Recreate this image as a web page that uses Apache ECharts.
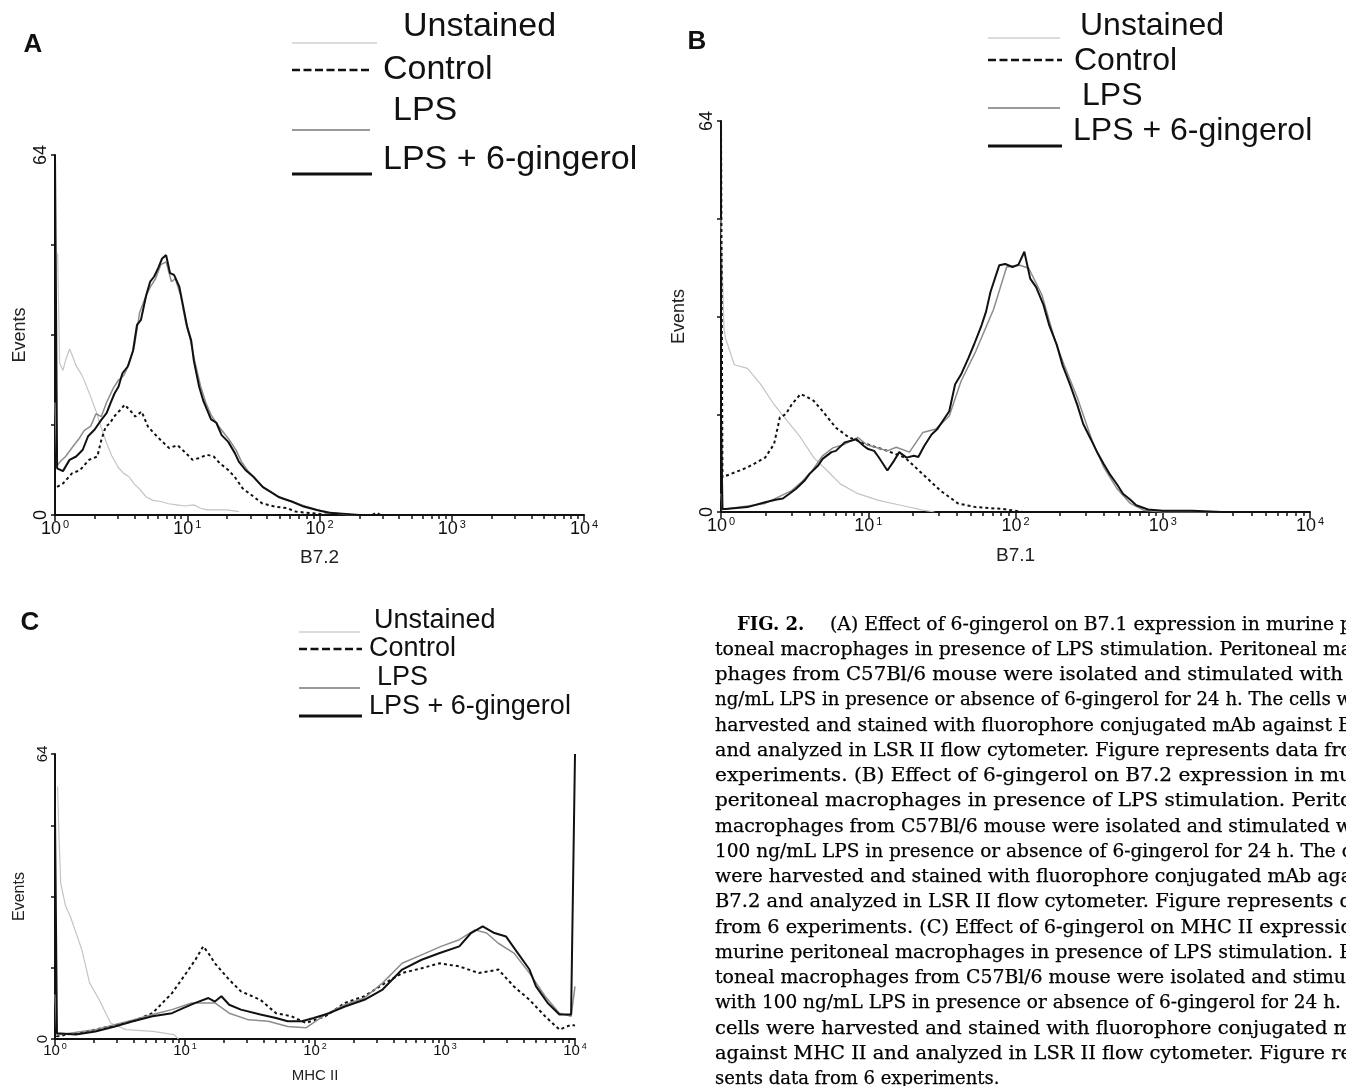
<!DOCTYPE html>
<html>
<head>
<meta charset="utf-8">
<title>FIG. 2</title>
<script src="https://cdn.jsdelivr.net/npm/echarts@6.0.0/dist/echarts.min.js"></script>
<style>
html,body{margin:0;padding:0;background:#fff;}
#chart{width:1346px;height:1086px;}
</style>
</head>
<body>
<div id="chart"></div>
<script>
// x = position on the log axis in decades (0 -> 10^0 ... 4 -> 10^4), y = events
var decades = ['0', '1', '2', '3', '4'];
var minorSteps = [2, 3, 4, 5, 6, 7, 8, 9];
var yTickLabels = [0, 64];
var names = ['Unstained', 'Control', 'LPS', 'LPS + 6-gingerol'];

// panel A : B7.2
var aUnstained = [[0.02,46.5],[0.035,27],[0.06,25.7],[0.08,27.5],[0.11,29.5],[0.13,28.4],[0.16,26.5],[0.2,25],[0.23,23.4],[0.27,21],[0.31,18.5],[0.35,15.5],[0.39,12.8],[0.43,10.5],[0.48,8.4],[0.52,7.4],[0.56,6.8],[0.6,5.5],[0.64,4.6],[0.69,3.2],[0.74,2.6],[0.8,2.4],[0.86,2],[0.92,1.8],[0.98,1.6],[1.05,1.8],[1.1,1.2],[1.15,0.9],[1.3,0.9],[1.39,0.6]];
var aControl = [[0.016,5],[0.06,5.6],[0.128,7.4],[0.19,8],[0.256,9.8],[0.32,10.4],[0.35,13.3],[0.383,15.7],[0.415,16.3],[0.447,17.5],[0.495,18.7],[0.527,19.6],[0.575,18.4],[0.607,17.5],[0.655,18.4],[0.703,15.7],[0.75,14.5],[0.8,13.3],[0.863,11.9],[0.927,12.4],[0.99,11],[1.04,9.8],[1.086,10.1],[1.15,10.7],[1.2,10.4],[1.246,9.2],[1.31,8],[1.358,6.8],[1.42,4.7],[1.5,3.3],[1.565,2.1],[1.66,1.5],[1.757,1.2],[1.82,0.6],[1.95,0.3],[2.08,0],[2.4,0],[2.43,0.4],[2.46,0],[4,0]];
var aLps = [[0,20],[0.016,8.8],[0.04,9.5],[0.08,10.4],[0.13,12],[0.18,13.5],[0.22,15],[0.27,15.8],[0.31,18],[0.35,17.5],[0.39,20],[0.44,22.5],[0.48,24],[0.52,24.8],[0.56,26.8],[0.6,30],[0.64,36],[0.68,38.5],[0.72,40.5],[0.76,42],[0.8,44.5],[0.84,45],[0.88,41.5],[0.91,42],[0.95,39],[0.99,34],[1.02,31.5],[1.06,27],[1.1,23],[1.14,20],[1.18,17.8],[1.23,16],[1.27,14.8],[1.32,13.3],[1.37,11.5],[1.41,9.5],[1.46,7.8],[1.52,6.3],[1.58,4.8],[1.65,3.9],[1.72,2.9],[1.8,2.3],[1.9,1.5],[2.0,0.8],[2.1,0.4],[2.2,0.1],[2.3,0],[4,0]];
var aLpsGin = [[0,64],[0.016,8.3],[0.03,8],[0.06,7.8],[0.11,9.8],[0.16,10.4],[0.21,11.6],[0.25,14],[0.3,15.2],[0.35,16.9],[0.39,18.1],[0.42,19.9],[0.45,21.6],[0.48,22.8],[0.51,25.2],[0.55,26.4],[0.59,29.2],[0.62,33.8],[0.65,34.7],[0.69,39.1],[0.72,41.5],[0.75,42.4],[0.78,43.9],[0.81,45.6],[0.84,46.2],[0.87,43],[0.9,42.7],[0.94,40.6],[0.97,37],[1.0,33.4],[1.03,31],[1.05,27.4],[1.09,22.8],[1.12,20.4],[1.15,18.7],[1.18,17],[1.22,16.4],[1.26,14.2],[1.31,13],[1.36,11],[1.39,9.5],[1.44,8],[1.5,6.8],[1.57,5],[1.63,4.1],[1.69,3.2],[1.79,2.4],[1.88,1.5],[1.98,0.9],[2.07,0.4],[2.2,0.2],[2.3,0],[4,0]];

// panel B : B7.1
var bUnstained = [[0,48],[0.02,30],[0.03,28.5],[0.09,24.1],[0.18,23.5],[0.27,20.9],[0.36,17.6],[0.45,14.9],[0.54,12.2],[0.63,8.9],[0.72,6.8],[0.81,4.6],[0.93,3],[1.07,1.9],[1.22,1.1],[1.37,0.3],[1.45,0]];
var bControl = [[0,64],[0.01,5.7],[0.18,7.3],[0.3,8.9],[0.36,11.1],[0.4,15.5],[0.44,16],[0.48,17.6],[0.54,19.3],[0.57,19],[0.63,18.2],[0.69,16.5],[0.78,13.8],[0.87,12.2],[0.99,11.1],[1.13,10],[1.25,8.9],[1.37,6.2],[1.49,3.5],[1.61,1.4],[1.73,0.8],[1.91,0.5],[1.97,0.3],[2.05,0],[4,0]];
var bLps = [[0,3],[0.01,0.4],[0.3,1.4],[0.48,3.5],[0.55,5],[0.62,6.8],[0.69,9.2],[0.76,10.5],[0.84,11.1],[0.93,12.2],[0.99,11],[1.02,10.8],[1.13,10],[1.19,10.6],[1.28,9.8],[1.37,13],[1.46,13.6],[1.55,15.7],[1.63,21.4],[1.73,26.3],[1.85,33.1],[1.94,40.1],[2.03,40.4],[2.09,39.9],[2.18,35.5],[2.27,27.9],[2.33,24.1],[2.42,18.7],[2.52,11.7],[2.6,7.3],[2.69,3.8],[2.78,1.4],[2.87,0.3],[3.0,0],[4,0]];
var bLpsGin = [[0,16],[0.01,0.5],[0.03,0.5],[0.18,0.8],[0.3,1.6],[0.37,2],[0.42,2.2],[0.46,2.9],[0.51,3.8],[0.57,5.2],[0.6,6.2],[0.66,7.6],[0.69,8.7],[0.75,9.8],[0.78,10],[0.84,11.4],[0.92,11.9],[0.97,10.8],[1.0,10.3],[1.04,10],[1.07,9],[1.13,6.8],[1.17,8.2],[1.21,9.8],[1.26,8.9],[1.31,9.2],[1.34,9],[1.38,10.8],[1.43,12.7],[1.47,13.6],[1.55,16.5],[1.59,20.9],[1.63,22.5],[1.68,25.2],[1.72,27.5],[1.77,30.6],[1.8,32.8],[1.83,36],[1.89,40.4],[1.93,40.6],[1.98,40.1],[2.02,40.5],[2.06,42.6],[2.1,38.2],[2.14,36.8],[2.19,33.9],[2.23,30.5],[2.28,27.4],[2.32,24],[2.37,20.9],[2.42,17.5],[2.46,14.4],[2.51,12],[2.55,10],[2.6,7.8],[2.64,6.2],[2.69,4.5],[2.73,3],[2.78,2],[2.82,1.1],[2.9,0.4],[3.0,0.2],[3.2,0.2],[3.4,0],[4,0]];

// panel C : MHC II
var cUnstained = [[0.02,56.7],[0.03,46],[0.044,35],[0.08,30],[0.118,27.5],[0.16,24],[0.207,20],[0.266,12.6],[0.34,8.8],[0.428,3.6],[0.546,2.1],[0.753,1.7],[0.915,1],[0.95,0]];
var cControl = [[0,2],[0.015,0.6],[0.31,2.1],[0.6,4],[0.75,5.8],[0.9,10.3],[0.99,14],[1.08,17.8],[1.14,20.8],[1.18,19.3],[1.23,17],[1.34,13.3],[1.43,10.7],[1.58,8.8],[1.7,5.8],[1.82,5.1],[1.93,3.6],[2.08,5.1],[2.23,8.1],[2.38,9.6],[2.52,12.2],[2.67,14.8],[2.82,15.9],[2.96,17],[3.11,16.3],[3.26,14.8],[3.41,15.6],[3.53,11.8],[3.65,8.8],[3.77,5.1],[3.88,2.1],[3.97,3.2],[4,3]];
var cLps = [[0,10],[0.015,0.9],[0.31,2.1],[0.6,4.3],[0.75,5.5],[0.9,6.6],[1.05,8.1],[1.23,8.1],[1.34,5.8],[1.49,4.3],[1.64,4],[1.79,2.8],[1.93,2.5],[2.08,5.5],[2.23,7.7],[2.38,9.2],[2.52,12.6],[2.67,17],[2.82,18.9],[2.97,20.8],[3.11,22.3],[3.23,24.5],[3.32,23.8],[3.41,21.5],[3.53,19.3],[3.65,14.8],[3.77,9.6],[3.88,5.8],[3.97,5.1],[4,11.8]];
var cLpsGin = [[0,50.7],[0.015,1.3],[0.16,1],[0.31,1.7],[0.46,2.8],[0.6,4],[0.75,5.1],[0.9,5.8],[0.99,7],[1.08,8.1],[1.18,9.2],[1.23,8.4],[1.28,9.6],[1.34,7.7],[1.43,6.6],[1.58,5.5],[1.7,4.7],[1.79,4],[1.9,4],[1.99,4.7],[2.11,5.8],[2.23,7.3],[2.38,8.8],[2.52,11.1],[2.67,15.6],[2.82,17.8],[2.96,19.3],[3.11,20.8],[3.2,23.8],[3.29,25.3],[3.38,23.8],[3.47,23],[3.56,19.3],[3.65,15.6],[3.7,11.8],[3.79,8.1],[3.88,5.5],[3.97,5.5],[4,64]];

var captionBold = 'FIG. 2.';
var captionLines = [
  '(A) Effect of 6-gingerol on B7.1 expression in murine p',
  'toneal macrophages in presence of LPS stimulation. Peritoneal ma',
  'phages from C57Bl/6 mouse were isolated and stimulated with',
  'ng/mL LPS in presence or absence of 6-gingerol for 24 h. The cells w',
  'harvested and stained with fluorophore conjugated mAb against B',
  'and analyzed in LSR II flow cytometer. Figure represents data fro',
  'experiments. (B) Effect of 6-gingerol on B7.2 expression in mu',
  'peritoneal macrophages in presence of LPS stimulation. Perito',
  'macrophages from C57Bl/6 mouse were isolated and stimulated w',
  '100 ng/mL LPS in presence or absence of 6-gingerol for 24 h. The c',
  'were harvested and stained with fluorophore conjugated mAb aga',
  'B7.2 and analyzed in LSR II flow cytometer. Figure represents d',
  'from 6 experiments. (C) Effect of 6-gingerol on MHC II expressio',
  'murine peritoneal macrophages in presence of LPS stimulation. P',
  'toneal macrophages from C57Bl/6 mouse were isolated and stimul',
  'with 100 ng/mL LPS in presence or absence of 6-gingerol for 24 h.',
  'cells were harvested and stained with fluorophore conjugated m',
  'against MHC II and analyzed in LSR II flow cytometer. Figure re',
  'sents data from 6 experiments.'
];
// right edge of each caption line (0 = not justified)
var captionEnds = [1352,1352,1343,1352,1352,1352,1352,1352,1352,1352,1352,1352,1352,1352,1352,1341,1352,1352,0];

var SANS = '"Liberation Sans", Arial, sans-serif';
var SERIF = '"DejaVu Serif", serif';

var minorTicks = [];
for (var d = 0; d < 4; d++) {
  minorSteps.forEach(function (k) { minorTicks.push(d + Math.log10(k)); });
}

var panels = [
  { grid: {left: 55, top: 155, width: 529, height: 360}, xname: 'B7.2', tick: 18, sup: 11, nameSize: 19, nameGap: 33, margin: 4, ylab: 18, evSize: 18, evGap: 26,
    data: [aUnstained, aControl, aLps, aLpsGin] },
  { grid: {left: 721, top: 121, width: 589, height: 391}, xname: 'B7.1', tick: 18, sup: 11, nameSize: 19, nameGap: 34, margin: 4, ylab: 18, evSize: 18, evGap: 33,
    data: [bUnstained, bControl, bLps, bLpsGin] },
  { grid: {left: 55, top: 754, width: 520, height: 285}, xname: 'MHC II', tick: 15, sup: 9, nameSize: 15, nameGap: 29, margin: 3, ylab: 15, evSize: 16, evGap: 27,
    data: [cUnstained, cControl, cLps, cLpsGin] }
];

var lineStyles = [
  {color: '#c4c4c4', width: 1.2, type: 'solid'},
  {color: '#111', width: 2, type: [3, 3]},
  {color: '#8c8c8c', width: 1.5, type: 'solid'},
  {color: '#111', width: 2, type: 'solid'}
];

var grids = [], xAxes = [], yAxes = [], series = [];
panels.forEach(function (p, i) {
  grids.push(p.grid);
  xAxes.push({
    gridIndex: i, type: 'value', min: 0, max: 4, interval: 1, position: 'bottom',
    axisLine: {onZero: false, lineStyle: {color: '#111', width: 2}},
    axisTick: {show: true, length: 6, lineStyle: {color: '#111', width: 1.5}},
    splitLine: {show: false},
    axisLabel: {
      margin: p.margin, color: '#111', fontFamily: SANS, fontSize: p.tick, lineHeight: p.tick + 3,
      formatter: function (v) { return '10{s|' + decades[Math.round(v)] + '}'; },
      rich: {s: {fontSize: p.sup, fontFamily: SANS, color: '#111', verticalAlign: 'top', lineHeight: p.sup, padding: [0, 0, 0, 2]}}
    },
    name: p.xname, nameLocation: 'middle', nameGap: p.nameGap,
    nameTextStyle: {fontFamily: SANS, fontSize: p.nameSize, color: '#222'}
  });
  xAxes.push({
    gridIndex: i, type: 'value', min: 0, max: 4, position: 'bottom',
    axisLine: {show: false}, axisLabel: {show: false}, splitLine: {show: false},
    axisTick: {show: true, length: 4, customValues: minorTicks, lineStyle: {color: '#111', width: 1.5}}
  });
  yAxes.push({
    gridIndex: i, type: 'value', min: 0, max: 64, interval: 16,
    axisLine: {show: true, onZero: false, lineStyle: {color: '#111', width: 2}},
    axisTick: {show: true, length: 4, lineStyle: {color: '#111', width: 1.5}},
    splitLine: {show: false},
    axisLabel: {
      rotate: 90, margin: 5, color: '#111', fontFamily: SANS, fontSize: p.ylab,
      formatter: function (v) { return yTickLabels.indexOf(v) >= 0 ? String(v) : ''; }
    },
    name: 'Events', nameLocation: 'middle', nameGap: p.evGap, nameRotate: 90,
    nameTextStyle: {fontFamily: SANS, fontSize: p.evSize, color: '#222'}
  });
  p.data.forEach(function (arr, k) {
    series.push({
      name: names[k], type: 'line', xAxisIndex: i * 2, yAxisIndex: i,
      data: arr, symbol: 'none', showSymbol: false, silent: true, z: 2 + k,
      lineStyle: lineStyles[k]
    });
  });
});

// legends drawn as graphic: text position, sample line
var legends = [
  {size: 34, rows: [
    {tx: 403, ty: 27, x1: 292, x2: 377, ly: 43},
    {tx: 383, ty: 70, x1: 292, x2: 372, ly: 70},
    {tx: 393, ty: 111, x1: 292, x2: 370, ly: 130},
    {tx: 383, ty: 160, x1: 292, x2: 372, ly: 174}]},
  {size: 32, rows: [
    {tx: 1080, ty: 26, x1: 988, x2: 1060, ly: 38},
    {tx: 1074, ty: 61, x1: 988, x2: 1062, ly: 60},
    {tx: 1082, ty: 96, x1: 988, x2: 1060, ly: 108},
    {tx: 1073, ty: 131, x1: 988, x2: 1062, ly: 146}]},
  {size: 27, rows: [
    {tx: 374, ty: 621, x1: 299, x2: 360, ly: 632},
    {tx: 369, ty: 649, x1: 299, x2: 362, ly: 649},
    {tx: 377, ty: 678, x1: 299, x2: 360, ly: 688},
    {tx: 369, ty: 707, x1: 299, x2: 362, ly: 716}]}
];
var legendLine = [
  {stroke: '#cfcfcf', lineWidth: 1.5},
  {stroke: '#111', lineWidth: 2.5, lineDash: [8, 3.5]},
  {stroke: '#999', lineWidth: 2},
  {stroke: '#111', lineWidth: 3}
];

var graphics = [];
legends.forEach(function (lg) {
  lg.rows.forEach(function (r, k) {
    graphics.push({type: 'line', shape: {x1: r.x1, y1: r.ly, x2: r.x2, y2: r.ly}, style: legendLine[k], silent: true});
    graphics.push({type: 'text', x: r.tx, y: r.ty, silent: true,
      style: {text: names[k], fontFamily: SANS, fontSize: lg.size, fill: '#111', align: 'left', verticalAlign: 'middle'}});
  });
});

[['A', 33, 45], ['B', 697, 42], ['C', 30, 623]].forEach(function (l) {
  graphics.push({type: 'text', x: l[1], y: l[2], silent: true,
    style: {text: l[0], fontFamily: SANS, fontSize: 26, fontWeight: 'bold', fill: '#111', align: 'center', verticalAlign: 'middle'}});
});

// caption, each line stretched to its justified width
var capSize = 18, capLeft = 715, capTop = 625, capStep = 25.25;
var ctx = document.createElement('canvas').getContext('2d');
graphics.push({type: 'text', x: 737, y: capTop, silent: true,
  style: {text: captionBold, fontFamily: SERIF, fontSize: capSize, fontWeight: 'bold', fill: '#000', align: 'left', verticalAlign: 'middle'}});
ctx.font = capSize + 'px ' + SERIF;
captionLines.forEach(function (t, i) {
  var x0 = i === 0 ? 830 : capLeft;
  var w = ctx.measureText(t).width;
  var sx = captionEnds[i] ? (captionEnds[i] - x0) / w : 1;
  graphics.push({type: 'text', x: x0, y: capTop + i * capStep, scaleX: sx, silent: true,
    style: {text: t, fontFamily: SERIF, fontSize: capSize, fill: '#000', stroke: '#000', lineWidth: 0.25, align: 'left', verticalAlign: 'middle'}});
});

var chart = echarts.init(document.getElementById('chart'));
chart.setOption({
  animation: false,
  backgroundColor: '#fff',
  grid: grids,
  xAxis: xAxes,
  yAxis: yAxes,
  series: series,
  graphic: graphics
});
window.onresize = function () { chart.resize(); };
</script>
</body>
</html>
